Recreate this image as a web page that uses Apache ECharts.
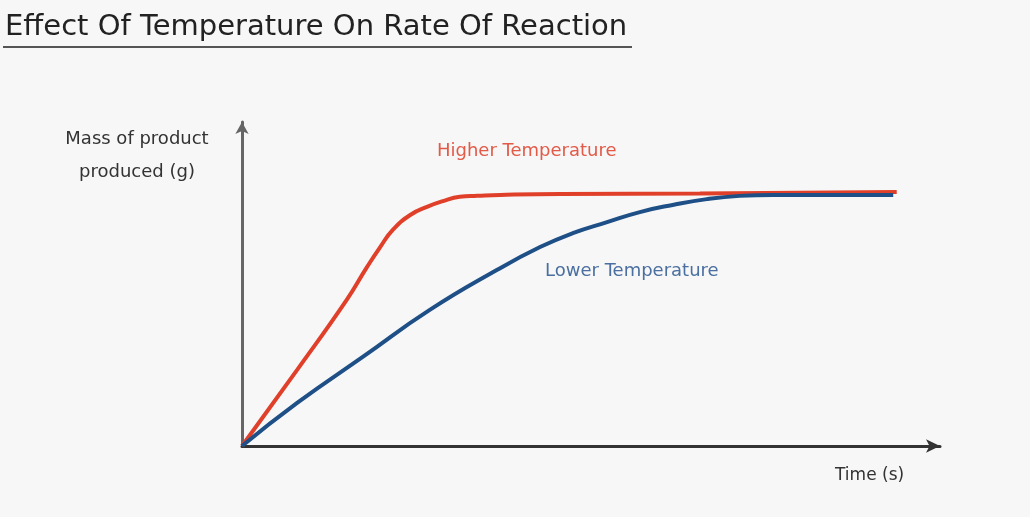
<!DOCTYPE html>
<html>
<head>
<meta charset="utf-8">
<title>Effect Of Temperature On Rate Of Reaction</title>
<script src="https://cdn.jsdelivr.net/npm/echarts@6/dist/echarts.min.js"></script>
<style>
	html, body { margin: 0; padding: 0; background: #f7f7f7; }
	#chart { width: 1030px; height: 517px; }
</style>
</head>
<body>
<div id="chart"></div>
<script>
// time (s) / mass (g), axis runs 0..100 on both
const higherTime = [0, 7.9, 15.0, 17.9, 19.8, 21.6, 24.1, 26.5, 28.8, 31.2, 33.7, 37.0, 45.6, 65.6, 93.8];
const higherMass = [0, 23.5, 45.1, 55.2, 61.4, 66.7, 71.3, 73.8, 75.6, 76.9, 77.2, 77.5, 77.8, 77.9, 78.4];
const lowerTime = [0, 7.9, 17.3, 26.9, 36.5, 42.7, 47.4, 52.3, 57.0, 61.7, 66.6, 71.3, 76.1, 93.3];
const lowerMass = [0, 13.3, 27.5, 42.0, 54.3, 61.4, 65.7, 69.1, 72.2, 74.4, 76.2, 77.2, 77.5, 77.5];

const seriesNames = ["Higher Temperature", "Lower Temperature"];

function pairs(xs, ys) {
	return xs.map(function(x, i) {
		return [x, ys[i]];
	});
}

const font = "DejaVu Sans";

let chart = echarts.init(document.getElementById("chart"));
let option = {
	backgroundColor: "#f7f7f7",
	animation: false,
	grid: {
		left: 242,
		right: 90,
		top: 122,
		bottom: 71
	},
	xAxis: {
		type: "value",
		min: 0,
		max: 100,
		axisLine: {
			lineStyle: { color: "#333", width: 3 },
			symbol: ["none", "arrow"],
			symbolSize: [10, 14]
		},
		axisTick: { show: false },
		axisLabel: { show: false },
		splitLine: { show: false }
	},
	yAxis: {
		type: "value",
		min: 0,
		max: 100,
		axisLine: {
			lineStyle: { color: "#666", width: 3 },
			symbol: ["none", "arrow"],
			symbolSize: [10, 12]
		},
		axisTick: { show: false },
		axisLabel: { show: false },
		splitLine: { show: false }
	},
	series: [
		{
			name: seriesNames[0],
			type: "line",
			smooth: 0.5,
			showSymbol: false,
			z: 3,
			lineStyle: { color: "#e0402a", width: 4 },
			data: pairs(higherTime, higherMass)
		},
		{
			name: seriesNames[1],
			type: "line",
			smooth: 0.5,
			showSymbol: false,
			z: 4,
			lineStyle: { color: "#1e4f86", width: 4 },
			data: pairs(lowerTime, lowerMass)
		}
	],
	graphic: [
		{
			type: "text",
			left: 5,
			top: 13,
			style: {
				text: "Effect Of Temperature On Rate Of Reaction",
				font: "29px '" + font + "'",
				fill: "#222"
			}
		},
		{
			type: "line",
			shape: { x1: 3, y1: 47, x2: 632, y2: 47 },
			style: { stroke: "#555", lineWidth: 2 }
		},
		{
			type: "text",
			x: 137,
			y: 123,
			style: {
				text: "Mass of product\nproduced (g)",
				font: "18px '" + font + "'",
				fill: "#333",
				align: "center",
				lineHeight: 33
			}
		},
		{
			type: "text",
			left: 835,
			top: 467,
			style: {
				text: "Time (s)",
				font: "17px '" + font + "'",
				fill: "#333"
			}
		},
		{
			type: "text",
			left: 437,
			top: 142,
			style: {
				text: seriesNames[0],
				font: "18px '" + font + "'",
				fill: "#e25a48"
			}
		},
		{
			type: "text",
			left: 545,
			top: 262,
			style: {
				text: seriesNames[1],
				font: "18px '" + font + "'",
				fill: "#4a6fa0"
			}
		}
	]
};
chart.setOption(option);
</script>
</body>
</html>
